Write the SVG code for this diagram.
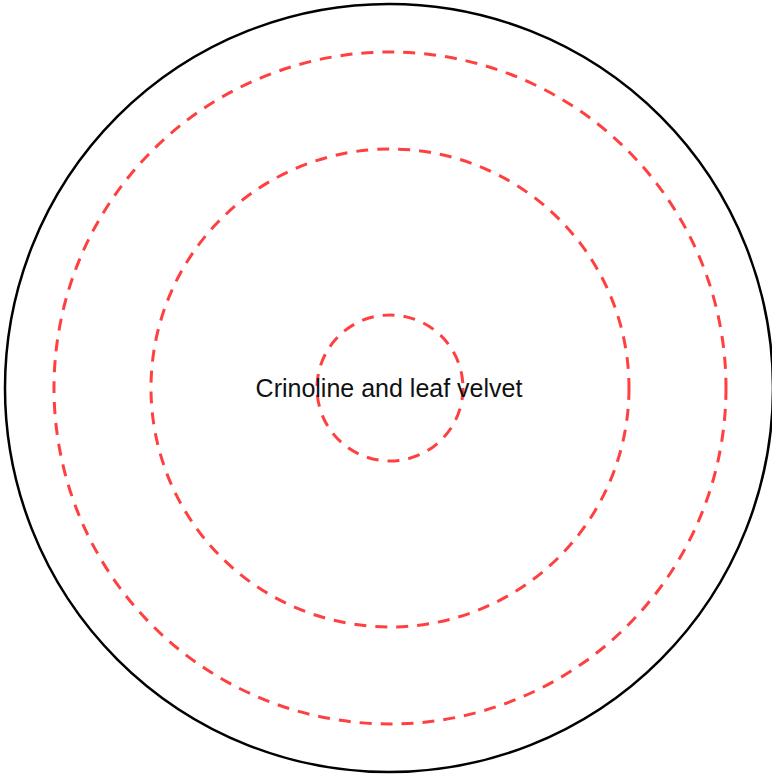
<svg xmlns="http://www.w3.org/2000/svg" width="772" height="777" viewBox="0 0 772 777">
<style>
.ring{fill:none;stroke:#ff4040;stroke-width:3;stroke-dasharray:12 9;}
.outer{fill:none;stroke:#000;stroke-width:2.5;}
.lbl{font-family:"Liberation Sans",Arial,sans-serif;font-size:25px;fill:#111;text-anchor:middle;}
</style>
<rect width="772" height="777" fill="#fff"/>
<g id="outer-circle"><circle class="outer" cx="389" cy="388" r="384"/></g>
<g id="ring-1"><circle class="ring" cx="390" cy="388" r="336"/></g>
<g id="ring-2"><circle class="ring" cx="390" cy="388" r="239"/></g>
<g id="ring-3"><circle class="ring" cx="390" cy="388" r="73"/></g>
<g id="label"><text class="lbl" x="389" y="397">Crinoline and leaf velvet</text></g>
</svg>
